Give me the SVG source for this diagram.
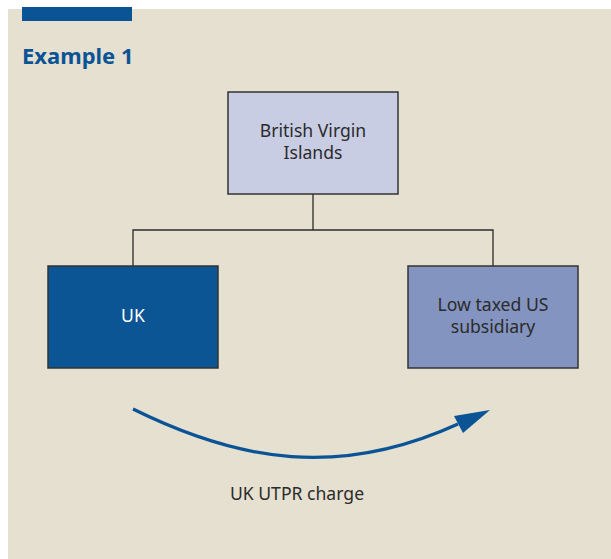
<svg xmlns="http://www.w3.org/2000/svg" width="611" height="559" viewBox="0 0 611 559">
  <style>
    .lbl { font-family: "Noto Sans", "Open Sans", sans-serif; font-size: 17.6px; fill: #2b2b2b; text-anchor: middle; }
    .box { stroke: #333333; stroke-width: 1.5; }
    .wire { fill: none; stroke: #2b2b2b; stroke-width: 1.3; }
  </style>
  <!-- page -->
  <rect x="0" y="0" width="611" height="559" fill="#ffffff"/>
  <rect x="8" y="9" width="603" height="550" fill="#e6e0d0"/>
  <rect x="22" y="7" width="110" height="14" fill="#0a5496"/>
  <text x="22" y="64" font-family="Noto Sans, Open Sans, sans-serif" font-weight="bold" font-size="22" fill="#0a5496">Example 1</text>

  <!-- connectors -->
  <g id="connectors">
    <path class="wire" d="M313 194 V230 M133 266 V230 H493 V266"/>
    <path d="M133 409 C240 462 340 478 458 424" fill="none" stroke="#0a5496" stroke-width="3.2"/>
    <polygon points="490,410 454,416 463,433" fill="#0a5496"/>
  </g>

  <g id="node-bvi">
    <rect class="box" x="228" y="92" width="170" height="102" fill="#c8cde3"/>
    <text class="lbl" x="313" y="137">British Virgin</text>
    <text class="lbl" x="313" y="159">Islands</text>
  </g>

  <g id="node-uk">
    <rect class="box" x="48" y="266" width="170" height="102" fill="#0b5594"/>
    <text class="lbl" x="133" y="322" style="fill:#ffffff">UK</text>
  </g>

  <g id="node-us">
    <rect class="box" x="408" y="266" width="170" height="102" fill="#8494c0"/>
    <text class="lbl" x="493" y="311">Low taxed US</text>
    <text class="lbl" x="493" y="333">subsidiary</text>
  </g>

  <g id="label-utpr">
    <text class="lbl" x="297" y="500">UK UTPR charge</text>
  </g>
</svg>
